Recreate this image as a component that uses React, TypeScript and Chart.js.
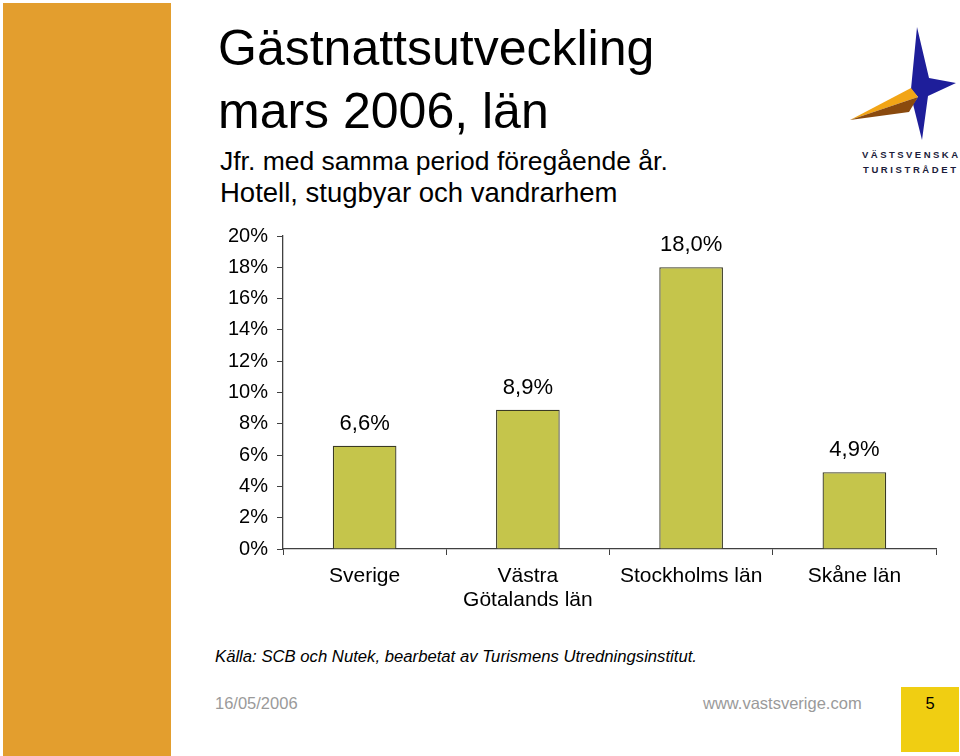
import React, { useEffect, useRef } from "react";
import { Chart, registerables } from "chart.js";

Chart.register(...registerables);

const FONT = "'Liberation Sans', Arial, Helvetica, sans-serif";

const categories: (string | string[])[] = ["Sverige", ["Västra", "Götalands län"], "Stockholms län", "Skåne län"];
const growthValues = [6.6, 8.9, 18.0, 4.9];
const yTickValues = [0, 2, 4, 6, 8, 10, 12, 14, 16, 18, 20];

const fmtValue = (v: number) => v.toFixed(1).replace(".", ",") + "%";

const dataLabelPlugin = {
  id: "dataLabels",
  afterDatasetsDraw(chart: any) {
    const ctx = chart.ctx;
    const meta = chart.getDatasetMeta(0);
    const values = chart.data.datasets[0].data as number[];
    ctx.save();
    ctx.font = `22px ${FONT}`;
    ctx.fillStyle = "#000";
    ctx.textAlign = "center";
    ctx.textBaseline = "middle";
    meta.data.forEach((bar: any, i: number) => {
      ctx.fillText(fmtValue(values[i]), bar.x, bar.y - 22);
    });
    ctx.restore();
  },
};

function BarChart() {
  const ref = useRef<HTMLCanvasElement | null>(null);
  useEffect(() => {
    if (!ref.current) return;
    const chart = new Chart(ref.current, {
      type: "bar",
      data: {
        labels: categories as any,
        datasets: [
          {
            data: growthValues,
            backgroundColor: "#C5C54B",
            borderColor: "#3A3A24",
            borderWidth: 1.3,
            barPercentage: 0.39,
            categoryPercentage: 1,
          },
        ],
      },
      options: {
        animation: false,
        responsive: false,
        layout: { padding: { left: 0, right: 24, top: 20, bottom: 0 } },
        plugins: { legend: { display: false }, tooltip: { enabled: false } },
        scales: {
          x: {
            grid: {
              display: true,
              drawOnChartArea: false,
              drawTicks: true,
              tickLength: 6,
              color: "#404040",
              offset: true,
            },
            border: { display: true, color: "#404040", width: 1.3 },
            ticks: {
              color: "#000",
              font: { family: FONT, size: 21, lineHeight: 1.15 },
              padding: 9,
              maxRotation: 0,
              autoSkip: false,
            },
            afterFit: (s: any) => {
              s.height = 71;
            },
          },
          y: {
            min: 0,
            max: 20,
            afterBuildTicks: (s: any) => {
              s.ticks = yTickValues.map((v) => ({ value: v }));
            },
            ticks: {
              callback: (v: any) => v + "%",
              color: "#000",
              font: { family: FONT, size: 20 },
              padding: 9,
            },
            grid: {
              drawOnChartArea: false,
              drawTicks: true,
              tickLength: 6,
              color: "#404040",
            },
            border: { display: true, color: "#404040", width: 1.3 },
            afterFit: (s: any) => {
              s.width = 103;
            },
          },
        },
      },
      plugins: [dataLabelPlugin],
    });
    return () => chart.destroy();
  }, []);
  return (
    <canvas
      ref={ref}
      width={780}
      height={405}
      style={{ position: "absolute", left: 180, top: 215, width: 780, height: 405 }}
    />
  );
}

export default function App() {
  return (
    <div
      style={{
        position: "fixed",
        left: 0,
        top: 0,
        width: 960,
        height: 756,
        background: "#fff",
        overflow: "hidden",
        fontFamily: FONT,
      }}
    >
      <svg
        width={960}
        height={756}
        style={{ position: "absolute", left: 0, top: 0 }}
        xmlns="http://www.w3.org/2000/svg"
      >
        <rect x={3} y={3} width={168} height={753} fill="#E39E2E" />
        <g fontFamily={FONT} fill="#000">
          <text x={218} y={65} fontSize={50}>Gästnattsutveckling</text>
          <text x={218} y={128} fontSize={50}>mars 2006, län</text>
          <text x={220} y={170} fontSize={26.5}>Jfr. med samma period föregående år.</text>
          <text x={220} y={202} fontSize={27.5}>Hotell, stugbyar och vandrarhem</text>
          <text x={215} y={662} fontSize={16.7} fontStyle="italic">
            Källa: SCB och Nutek, bearbetat av Turismens Utredningsinstitut.
          </text>
          <text x={215} y={709} fontSize={16.5} fill="#9A9A9A">16/05/2006</text>
          <text x={703} y={709} fontSize={16.5} fill="#9A9A9A">www.vastsverige.com</text>
        </g>
        <rect x={901} y={687} width={58} height={65} fill="#F0CE12" />
        <text x={930} y={709} fontSize={16.5} fontFamily={FONT} textAnchor="middle" fill="#000">5</text>
        {/* logo */}
        <polygon
          points="917,27 929,78 956,83 928,96 922,140 913,104 918,97 911,89"
          fill="#1E1E9A"
        />
        <polygon points="850,120 911,88 918,97" fill="#F2A516" />
        <polygon points="850,120 918,97 909,112" fill="#8A4A0E" />
        <g fontFamily={FONT} fontWeight="bold" fontSize={9.5} fill="#1B1B3A">
          <text x={862} y={158} textLength={96} lengthAdjust="spacing">VÄSTSVENSKA</text>
          <text x={863} y={173} textLength={93} lengthAdjust="spacing">TURISTRÅDET</text>
        </g>
      </svg>
      <BarChart />
    </div>
  );
}
